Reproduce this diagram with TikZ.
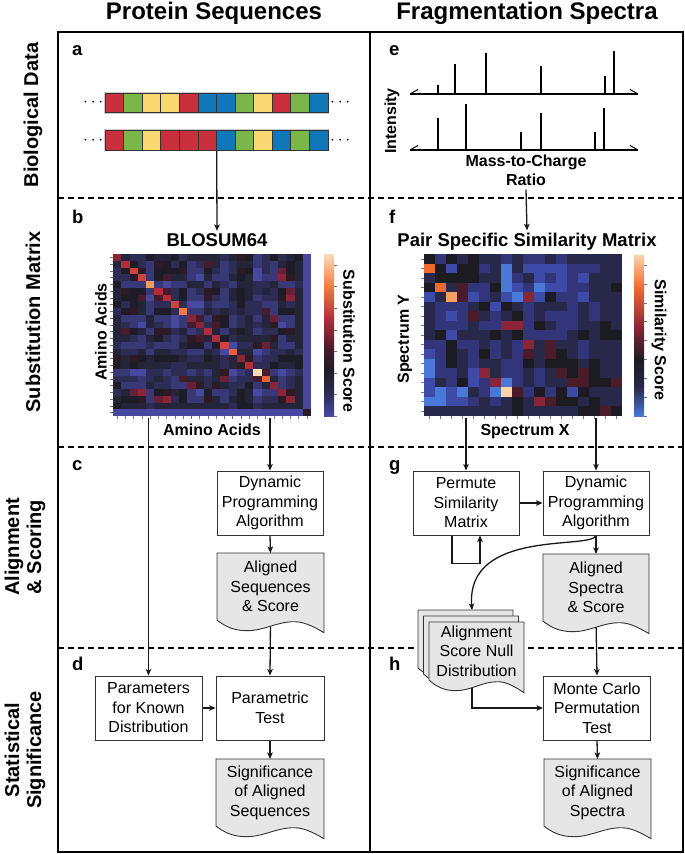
\documentclass[tikz,border=0pt]{standalone}
\usepackage{fontspec}
\setmainfont{Liberation Sans}
\usetikzlibrary{arrows.meta,calc}
\pgfdeclarelayer{bg}
\pgfdeclarelayer{mid}
\pgfsetlayers{bg,mid,main}
% sequence colours
\definecolor{sqR}{HTML}{C8303C}
\definecolor{sqG}{HTML}{7AB648}
\definecolor{sqY}{HTML}{FCD872}
\definecolor{sqB}{HTML}{1078B8}
% BLOSUM colour map (score+4)
\definecolor{bs0}{HTML}{4848A0}
\definecolor{bs1}{HTML}{383876}
\definecolor{bs2}{HTML}{2C2C54}
\definecolor{bs3}{HTML}{24243A}
\definecolor{bs4}{HTML}{1E1C26}
\definecolor{bs5}{HTML}{2C1A24}
\definecolor{bs6}{HTML}{461C2C}
\definecolor{bs7}{HTML}{6A2034}
\definecolor{bs8}{HTML}{8C2438}
\definecolor{bs9}{HTML}{B42C3C}
\definecolor{bs10}{HTML}{D4403C}
\definecolor{bs11}{HTML}{E8603A}
\definecolor{bs12}{HTML}{F07C44}
\definecolor{bs13}{HTML}{F59A60}
\definecolor{bs14}{HTML}{F9BB8E}
\definecolor{bs15}{HTML}{FCDCB8}
% similarity map colours
\definecolor{sfK}{HTML}{1C1B22}
\definecolor{sfN}{HTML}{28284A}
\definecolor{sfM}{HTML}{33357A}
\definecolor{sfB}{HTML}{3D4AA8}
\definecolor{sfL}{HTML}{4A78D8}
\definecolor{sfR}{HTML}{8A2438}
\definecolor{sfD}{HTML}{4A1C2A}
\definecolor{sfO}{HTML}{EE6A30}
\definecolor{sfP}{HTML}{F7A060}
\definecolor{sfW}{HTML}{FDD3A8}
\definecolor{docgray}{HTML}{E6E6E6}
\newcommand\titlefont{\bfseries\fontsize{24}{28}\selectfont}
\newcommand\seclabfont{\bfseries\fontsize{20}{22}\selectfont}
\newcommand\letfont{\bfseries\fontsize{18.5}{20}\selectfont}
\newcommand\maptitlefont{\bfseries\fontsize{18.5}{20}\selectfont}
\newcommand\axfont{\bfseries\fontsize{16}{19}\selectfont}
\newcommand\boxfont{\fontsize{16}{19.5}\selectfont}
\newcommand\dotsfont{\fontsize{17}{17}\selectfont}
\newcommand\docshape[2]{%
  \path[docfill] (#1.north west) -- (#1.north east) -- ([shift={(0,12.7)}]#1.south east)
   .. controls ([shift={({-0.12*#2},5)}]#1.south east) and ([shift={({-0.2*#2},1.7)}]#1.south east) .. ([shift={({-0.28*#2},1.7)}]#1.south east)
   .. controls ([shift={({-0.44*#2},1.7)}]#1.south east) and ([shift={({0.44*#2},10.7)}]#1.south west) .. ([shift={({0.28*#2},10.7)}]#1.south west)
   .. controls ([shift={({0.14*#2},10.7)}]#1.south west) and ([shift={({0.06*#2},5)}]#1.south west) .. (#1.south west) -- cycle;}
\tikzset{
  arr/.style={-{Stealth[length=6.5pt,width=5.5pt,inset=1.5pt]}, line width=1.3pt, draw=black!90},
  box/.style={draw=black!80, line width=0.9pt, fill=white, minimum width=106pt, minimum height=64pt, inner sep=0pt, align=center, font=\boxfont},
  docn/.style={inner sep=0pt, outer sep=0pt, minimum width=107pt, minimum height=67pt, align=center, font=\boxfont},
  docfill/.style={fill=docgray, draw=black!80, line width=0.9pt},
  tick/.style={draw=black!55, line width=0.5pt},
  sep/.style={line width=2pt, dash pattern=on 6pt off 4pt},
  letter/.style={font=\letfont, anchor=base west, inner sep=0pt},
  seqdots/.style={inner sep=1.5pt, font=\dotsfont},
}
\begin{document}
\begin{tikzpicture}[x=1pt,y=-1pt]
\useasboundingbox (0,0) rectangle (685,854);
% ---------------- titles and row labels
\node[font=\titlefont, anchor=base, inner sep=0pt] (tprot) at (214,19.5) {Protein Sequences};
\node[font=\titlefont, anchor=base, inner sep=0pt] (tfrag) at (527,19.5) {Fragmentation Spectra};
\node[rotate=90, font=\seclabfont] (sbio) at (33,115) {Biological Data};
\node[rotate=90, font=\seclabfont] (ssub) at (33,322) {Substitution Matrix};
\node[rotate=90, font=\seclabfont, align=center] (saln) at (25,547) {Alignment\\\& Scoring};
\node[rotate=90, font=\seclabfont, align=center] (sstat) at (25,750) {Statistical\\Significance};
% ---------------- frame
\begin{pgfonlayer}{bg}
\draw[line width=2pt] (58,32) rectangle (683,851.5);
\draw[line width=1.5pt] (370,32) -- (370,851.5);
\draw[sep] (58,198) -- (683,198);
\draw[sep] (58,447) -- (683,447);
\draw[sep] (58,648) -- (683,648);
\end{pgfonlayer}
% panel letters
\node[letter] (la) at (72,55) {a};
\node[letter] (lb) at (72,223) {b};
\node[letter] (lc) at (72,470) {c};
\node[letter] (ld) at (72,670) {d};
\node[letter] (le) at (389,55) {e};
\node[letter] (lf) at (389,223) {f};
\node[letter] (lg) at (389,470) {g};
\node[letter] (lh) at (389,670) {h};
% ---------------- a: sequences
\node[inner sep=0pt, minimum width=223pt, minimum height=19.5pt, anchor=north west] (seq1) at (105,93) {};
\node[inner sep=0pt, minimum width=223pt, minimum height=19.5pt, anchor=north west] (seq2) at (105,130.5) {};
\draw[black!20, line width=1pt] (104.2,92.2) rectangle (328.8,113.3);
\draw[black!20, line width=1pt] (104.2,129.7) rectangle (328.8,150.8);
\foreach \c [count=\j] in {sqR,sqG,sqY,sqY,sqR,sqB,sqB,sqG,sqY,sqR,sqG,sqB}
  \filldraw[fill=\c, draw=black!80, line width=0.7pt] ({105+(\j-1)*18.58},93) rectangle ++(18.58,19.5);
\foreach \c [count=\j] in {sqR,sqG,sqY,sqR,sqR,sqR,sqB,sqG,sqY,sqB,sqG,sqB}
  \filldraw[fill=\c, draw=black!80, line width=0.7pt] ({105+(\j-1)*18.58},130.5) rectangle ++(18.58,19.5);
\node[seqdots, anchor=east] (d1l) at (seq1.west) {$\cdots$};
\node[seqdots, anchor=west] (d1r) at (seq1.east) {$\cdots$};
\node[seqdots, anchor=east] (d2l) at (seq2.west) {$\cdots$};
\node[seqdots, anchor=west] (d2r) at (seq2.east) {$\cdots$};
% ---------------- e: spectra
\foreach \yb in {94,150} {
  \draw[line width=1.3pt] (410,\yb) -- (638,\yb);
  \draw[line width=1pt] (410,\yb) -- ++(8,-4.5);
  \draw[line width=1pt] (638,\yb) -- ++(-8,-4.5);
}
\foreach \px/\py in {438/85,455/64,486/53,541/66,605/76,614/51}
  \draw[line width=2pt] (\px,94) -- (\px,\py);
\foreach \px/\py in {438/118,466/104,521/132,541/113,595/132,604/108}
  \draw[line width=2pt] (\px,150) -- (\px,\py);
\node[rotate=90, font=\axfont, inner sep=0pt] (inten) at (392,121) {Intensity};
\node[font=\axfont, align=center, inner sep=0pt] (mz) at (526,170) {Mass-to-Charge\\Ratio};
% ---------------- b: BLOSUM heatmap
\node[font=\maptitlefont, anchor=base, inner sep=2pt] (blosumt) at (217,246) {BLOSUM64};
\node[inner sep=0pt, outer sep=0pt, minimum width=198pt, minimum height=162pt, anchor=north west] (hmb) at (113,254) {};
\foreach \row [count=\i] in {
 {4,-1,-2,-2,0,-1,-1,0,-2,-1,-1,-1,-1,-2,-1,1,0,-3,-2,0,-2,-1,0,-4},
 {-1,5,0,-2,-3,1,0,-2,0,-3,-2,2,-1,-3,-2,-1,-1,-3,-2,-3,-1,0,-1,-4},
 {-2,0,6,1,-3,0,0,0,1,-3,-3,0,-2,-3,-2,1,0,-4,-2,-3,3,0,-1,-4},
 {-2,-2,1,6,-3,0,2,-1,-1,-3,-4,-1,-3,-3,-1,0,-1,-4,-3,-3,4,1,-1,-4},
 {0,-3,-3,-3,9,-3,-4,-3,-3,-1,-1,-3,-1,-2,-3,-1,-1,-2,-2,-1,-3,-3,-2,-4},
 {-1,1,0,0,-3,5,2,-2,0,-3,-2,1,0,-3,-1,0,-1,-2,-1,-2,0,3,-1,-4},
 {-1,0,0,2,-4,2,5,-2,0,-3,-3,1,-2,-3,-1,0,-1,-3,-2,-2,1,4,-1,-4},
 {0,-2,0,-1,-3,-2,-2,6,-2,-4,-4,-2,-3,-3,-2,0,-2,-2,-3,-3,-1,-2,-1,-4},
 {-2,0,1,-1,-3,0,0,-2,8,-3,-3,-1,-2,-1,-2,-1,-2,-2,2,-3,0,0,-1,-4},
 {-1,-3,-3,-3,-1,-3,-3,-4,-3,4,2,-3,1,0,-3,-2,-1,-3,-1,3,-3,-3,-1,-4},
 {-1,-2,-3,-4,-1,-2,-3,-4,-3,2,4,-2,2,0,-3,-2,-1,-2,-1,1,-4,-3,-1,-4},
 {-1,2,0,-1,-3,1,1,-2,-1,-3,-2,5,-1,-3,-1,0,-1,-3,-2,-2,0,1,-1,-4},
 {-1,-1,-2,-3,-1,0,-2,-3,-2,1,2,-1,5,0,-2,-1,-1,-1,-1,1,-3,-1,-1,-4},
 {-2,-3,-3,-3,-2,-3,-3,-3,-1,0,0,-3,0,6,-4,-2,-2,1,3,-1,-3,-3,-1,-4},
 {-1,-2,-2,-1,-3,-1,-1,-2,-2,-3,-3,-1,-2,-4,7,-1,-1,-4,-3,-2,-2,-1,-2,-4},
 {1,-1,1,0,-1,0,0,0,-1,-2,-2,0,-1,-2,-1,4,1,-3,-2,-2,0,0,0,-4},
 {0,-1,0,-1,-1,-1,-1,-2,-2,-1,-1,-1,-1,-2,-1,1,5,-2,-2,0,-1,-1,0,-4},
 {-3,-3,-4,-4,-2,-2,-3,-2,-2,-3,-2,-3,-1,1,-4,-3,-2,11,2,-3,-4,-3,-2,-4},
 {-2,-2,-2,-3,-2,-1,-2,-3,2,-1,-1,-2,-1,3,-3,-2,-2,2,7,-1,-3,-2,-1,-4},
 {0,-3,-3,-3,-1,-2,-2,-3,-3,3,1,-2,1,-1,-2,-2,0,-3,-1,4,-3,-2,-1,-4},
 {-2,-1,3,4,-3,0,1,-1,0,-3,-4,0,-3,-3,-2,0,-1,-4,-3,-3,4,1,-1,-4},
 {-1,0,0,1,-3,3,4,-2,0,-3,-3,1,-1,-3,-1,0,-1,-3,-2,-2,1,4,-1,-4},
 {0,-1,-1,-1,-2,-1,-1,-1,-1,-1,-1,-1,-1,-1,-2,0,0,-2,-1,-1,-1,-1,-1,-4},
 {-4,-4,-4,-4,-4,-4,-4,-4,-4,-4,-4,-4,-4,-4,-4,-4,-4,-4,-4,-4,-4,-4,-4,1}} {
  \foreach \s [count=\j] in \row {
    \pgfmathtruncatemacro\k{\s+4}
    \fill[bs\k] ({113+(\j-1)*8.25},{254+(\i-1)*6.75}) rectangle ++(8.4,6.9);
  }
}
\foreach \i in {0,...,23} {
  \draw[tick] (110,{254+6.75*(\i+0.5)}) -- (113,{254+6.75*(\i+0.5)});
  \draw[tick] ({113+8.25*(\i+0.5)},416) -- ({113+8.25*(\i+0.5)},419);
}
% colour bar b
\shade[top color=bs15, bottom color=bs12] (324,254) rectangle (334,286.8);
\shade[top color=bs12, bottom color=bs9] (324,286.4) rectangle (334,319.2);
\shade[top color=bs9, bottom color=bs6] (324,318.8) rectangle (334,348.4);
\shade[top color=bs6, bottom color=bs4] (324,348) rectangle (334,371);
\shade[top color=bs4, bottom color=bs2] (324,370.6) rectangle (334,393.7);
\shade[top color=bs2, bottom color=bs0] (324,393.3) rectangle (334,416);
\node[inner sep=0pt, outer sep=0pt, minimum width=10pt, minimum height=162pt, anchor=north west] (cbb) at (324,254) {};
\foreach \t in {0,...,7}
  \draw[tick] (334,{265+21.6*\t}) -- (337,{265+21.6*\t});
\node[rotate=90, font=\axfont, inner sep=0pt] (aay) at (101,332) {Amino Acids};
\node[font=\axfont, anchor=base, inner sep=0pt] (aax) at (212,435) {Amino Acids};
\node[rotate=-90, font=\axfont, inner sep=0pt] (subsc) at (349,341) {Substitution Score};
% ---------------- f: similarity heatmap
\node[font=\maptitlefont, anchor=base, inner sep=2pt] (pairt) at (527,246) {Pair Specific Similarity Matrix};
\node[inner sep=0pt, outer sep=0pt, minimum width=198pt, minimum height=162pt, anchor=north west] (hmf) at (424,254) {};
\foreach \row [count=\i] in {
 {K,M,K,N,K,N,N,M,N,M,M,N,M,N,N,N,N,N},
 {O,K,B,K,K,M,N,L,N,B,B,B,B,M,M,M,N,N},
 {N,K,K,K,K,N,N,L,M,N,B,M,B,M,B,N,N,N},
 {K,O,N,D,M,M,K,L,B,M,L,B,B,M,M,N,N,K},
 {B,N,P,D,B,M,N,B,L,R,B,K,M,M,B,N,N,N},
 {N,M,M,M,N,K,B,K,N,M,N,N,N,M,N,M,N,N},
 {N,M,B,M,D,N,M,N,K,M,N,M,M,M,N,M,N,N},
 {N,M,M,M,N,M,M,R,R,M,K,N,M,M,N,N,K,N},
 {N,K,B,N,N,N,K,N,K,M,M,M,M,N,K,N,K,K},
 {M,M,K,M,M,N,M,N,M,R,N,D,N,N,M,N,N,N},
 {B,M,K,N,M,K,M,N,M,D,N,D,K,N,M,N,N,N},
 {L,M,K,N,M,N,N,M,M,K,N,K,K,K,N,K,N,N},
 {L,M,M,N,B,R,N,M,M,N,M,N,D,K,D,K,N,N},
 {B,N,M,K,B,M,R,L,M,N,M,N,N,D,D,K,K,D},
 {B,L,B,L,N,M,L,W,D,M,K,M,K,B,K,N,N,N},
 {L,L,B,B,M,N,M,N,K,N,R,D,K,K,N,K,N,N},
 {N,N,N,N,N,N,N,N,K,N,N,N,N,N,K,K,D,K}} {
  \foreach \s [count=\j] in \row {
    \fill[sf\s] ({424+(\j-1)*11},{254+(\i-1)*9.53}) rectangle ++(11.15,9.7);
  }
}
\foreach \i in {0,...,16}
  \draw[tick] (421,{254+9.53*(\i+0.5)}) -- (424,{254+9.53*(\i+0.5)});
\foreach \i in {0,...,17}
  \draw[tick] ({424+11*(\i+0.5)},416) -- ({424+11*(\i+0.5)},419);
% colour bar f
\shade[top color=sfW, bottom color=sfO] (634,255) rectangle (644,287.6);
\shade[top color=sfO, bottom color=sfR] (634,287.2) rectangle (644,327.8);
\shade[top color=sfR, bottom color=sfK] (634,327.4) rectangle (644,359.8);
\shade[top color=sfK, bottom color=sfN] (634,359.4) rectangle (644,387.2);
\shade[top color=sfN, bottom color=sfL] (634,386.8) rectangle (644,416);
\node[inner sep=0pt, outer sep=0pt, minimum width=10pt, minimum height=161pt, anchor=north west] (cbf) at (634,255) {};
\foreach \t in {0,...,8}
  \draw[tick] (644,{265+18.9*\t}) -- (647,{265+18.9*\t});
\node[rotate=90, font=\axfont, inner sep=0pt] (specy) at (405,339) {Spectrum Y};
\node[font=\axfont, anchor=base, inner sep=0pt] (specx) at (525,435) {Spectrum X};
\node[rotate=-90, font=\axfont, inner sep=0pt] (simsc) at (659,340) {Similarity Score};
% ---------------- c / d: protein flow
\node[box] (dpa) at (270,503) {Dynamic\\Programming\\Algorithm};
\node[docn] (alseq) at (270.5,586.5) {Aligned\\Sequences\\\& Score};
\node[box, minimum width=107pt] (params) at (148.5,708) {Parameters\\for Known\\Distribution};
\node[box, minimum width=108pt] (ptest) at (270,708) {Parametric\\Test};
\node[docn, minimum width=108pt] (sigseq) at (270,792.5) {Significance\\of Aligned\\Sequences};
% ---------------- g / h: spectra flow
\node[box] (perm) at (466,503) {Permute\\Similarity\\Matrix};
\node[box] (dpb) at (596,503) {Dynamic\\Programming\\Algorithm};
\node[docn, minimum width=106pt] (alspec) at (596,587.5) {Aligned\\Spectra\\\& Score};
\node[docn, minimum width=95pt, minimum height=58pt] (nullb) at (465.5,639) {};
\node[docn, minimum width=95pt, minimum height=58pt] (nullm) at (471,645) {};
\node[docn, minimum width=95pt, minimum height=58pt] (nullf) at (476.5,651) {Alignment\\Score Null\\Distribution};
\node[box, minimum width=107pt] (mc) at (597,708) {Monte Carlo\\Permutation\\Test};
\node[docn] (sigspec) at (597.5,792.5) {Significance\\of Aligned\\Spectra};
\coordinate (nulltop) at ([xshift=6.5pt]nullb.north);
% document outlines
\begin{pgfonlayer}{mid}
\docshape{alseq}{107}
\docshape{sigseq}{108}
\docshape{alspec}{106}
\docshape{nullb}{95}
\docshape{nullm}{95}
\docshape{nullf}{95}
\docshape{sigspec}{107}
\end{pgfonlayer}
% ---------------- connectors
\begin{pgfonlayer}{bg}
\draw[arr] (seq2.south) -- (blosumt.north);
\draw[arr] ([yshift=-4pt]mz.south) -- (pairt.north);
\draw[arr] ([yshift=-2pt]params.north |- hmb.south) -- (params.north);
\draw[arr] ([yshift=-2pt]dpa.north |- hmb.south) -- (dpa.north);
\draw[arr] (dpa.south) -- (alseq.north);
\draw[arr] (alseq.south) -- (ptest.north);
\draw[arr] (params.east) -- (ptest.west);
\draw[arr] (ptest.south) -- (sigseq.north);
\draw[arr] ([yshift=-2pt]perm.north |- hmf.south) -- (perm.north);
\draw[arr] ([yshift=-2pt]dpb.north |- hmf.south) -- (dpb.north);
\draw[arr] (perm.east) -- (dpb.west);
\draw[arr] ([xshift=-14pt]perm.south) -- ++(0,28) -| ([xshift=14pt]perm.south);
\draw[arr] (dpb.south) -- (alspec.north);
\draw[arr] (dpb.south) .. controls (592,550) and (466,528) .. (nulltop);
\draw[arr] (alspec.south) -- (mc.north);
\draw[arr] ([xshift=-4.5pt]nullf.south) |- (mc.west);
\draw[arr] (mc.south) -- (sigspec.north);
\end{pgfonlayer}
\end{tikzpicture}
\end{document}
